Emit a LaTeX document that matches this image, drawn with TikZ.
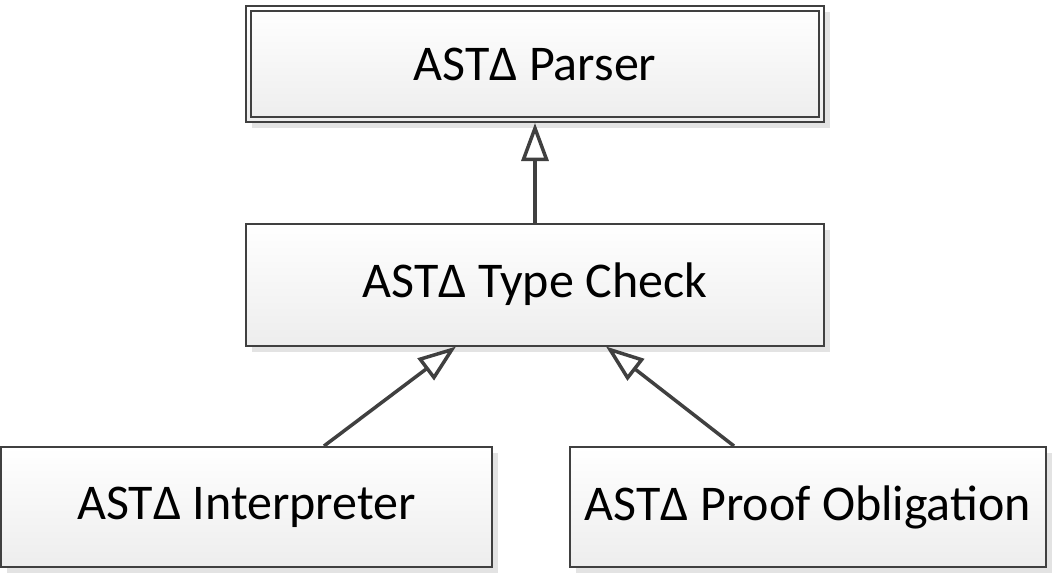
\documentclass[tikz,border=0pt]{standalone}
\usepackage{fontspec}
\setmainfont{Carlito}
\usetikzlibrary{arrows.meta,shadows}
\definecolor{edge}{HTML}{404040}
\tikzset{
  box/.style={draw=edge, line width=2pt, rectangle, top color=white, bottom color=black!7,
    drop shadow={shadow xshift=6pt, shadow yshift=-6pt, fill=black!11, opacity=1},
    font=\fontsize{50}{54}\selectfont, inner sep=0pt},
  inherit/.style={draw=edge, line width=3.5pt, -{Triangle[open,length=38pt,width=27pt,line width=3.5pt]}}
}
\begin{document}
\begin{tikzpicture}[x=1pt,y=-1pt]
\useasboundingbox (0,0) rectangle (1053,574);
\node[box, minimum width=578pt, minimum height=116pt] (top) at (535,64) {ASTΔ Parser};
\draw[edge, line width=2pt] ([shift={(6pt,-6pt)}]top.north west) rectangle ([shift={(-6pt,6pt)}]top.south east);
\node[box, minimum width=578pt, minimum height=122pt] (mid) at (535,284.5) {ASTΔ Type Check};
\node[box, minimum width=491pt, minimum height=120pt] (ll) at (246.5,507) {ASTΔ Interpreter};
\node[box, minimum width=476pt, minimum height=120pt] (rr) at (808,507) {ASTΔ Proof Obligation};
\draw[inherit] (mid.north) -- (top.south);
\draw[inherit] ([xshift=324pt]ll.north west) -- ([xshift=211pt]mid.south west);
\draw[inherit] ([xshift=165pt]rr.north west) -- ([xshift=361pt]mid.south west);
\end{tikzpicture}
\end{document}
